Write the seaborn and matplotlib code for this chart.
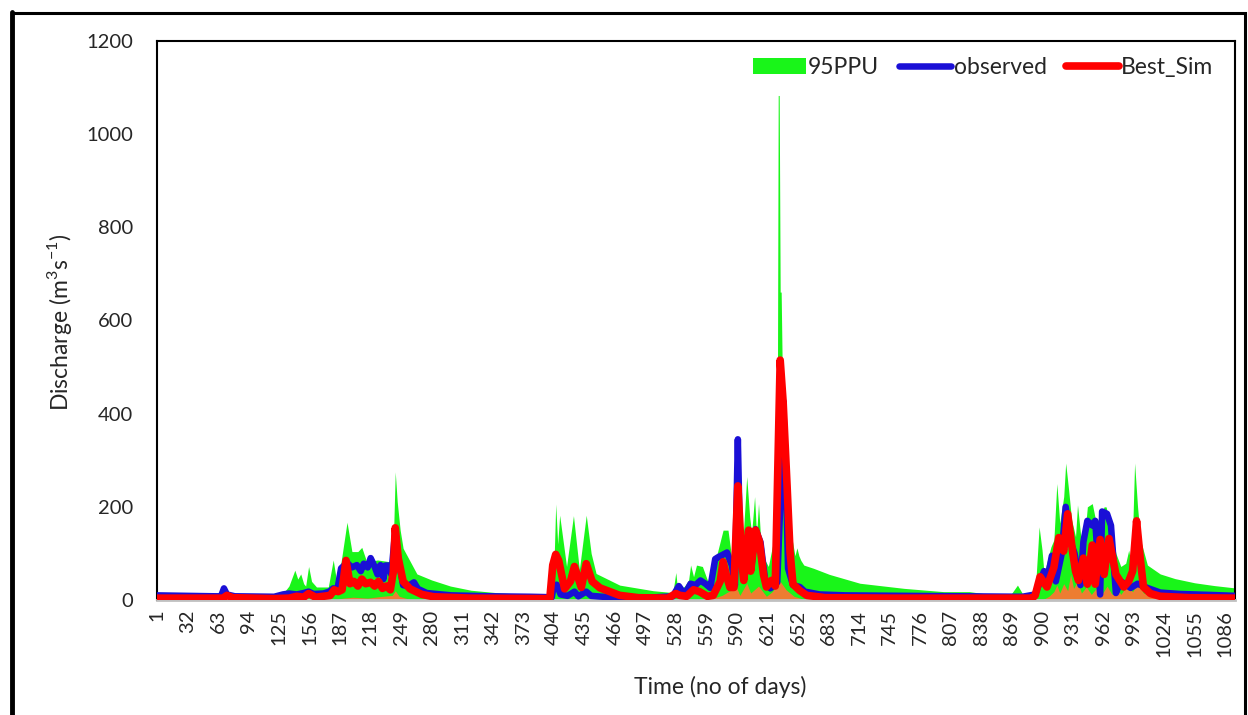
import numpy as np
import matplotlib
matplotlib.use('Agg')
import matplotlib.pyplot as plt
import seaborn as sns
from matplotlib.patches import Patch, Rectangle
from matplotlib.lines import Line2D

# daily discharge (day, m3/s) at breakpoints
obs_day = [1, 30, 60, 66, 69, 72, 80, 120, 129, 135, 143, 150, 155, 160, 170, 176, 180, 184, 188, 194, 199,
           204, 208, 211, 215, 218, 222, 225, 228, 231, 233, 236, 239, 243, 246, 251, 256, 262, 266, 275, 300,
           340, 380, 402, 404, 407, 411, 418, 425, 429, 437, 442, 460, 500, 525, 531, 535, 537, 543, 548, 553,
           558, 563, 568, 571, 580, 585, 588, 591, 593, 597, 602, 605, 609, 614, 619, 624, 631, 634, 637, 640,
           642, 647, 654, 659, 674, 700, 760, 820, 880, 893, 898, 902, 905, 910, 914, 920, 924, 929, 933, 939,
           942, 946, 951, 954, 959, 961, 966, 970, 975, 980, 990, 997, 1007, 1020, 1040, 1070, 1096]
obs_q = [10, 9, 8, 8, 25, 12, 8, 7, 12, 14, 12, 15, 18, 13, 14, 18, 25, 20, 68, 80, 70,
         75, 62, 78, 70, 90, 72, 55, 75, 45, 74, 74, 55, 150, 90, 32, 30, 38, 24, 15, 10,
         8, 7, 6, 30, 33, 12, 9, 18, 8, 18, 9, 6, 5, 8, 30, 18, 12, 35, 32, 42,
         35, 26, 88, 92, 102, 74, 32, 345, 140, 45, 138, 75, 152, 124, 38, 25, 38, 200, 428, 245,
         68, 32, 28, 18, 12, 10, 9, 8, 7, 12, 40, 62, 40, 95, 40, 100, 200, 125, 100, 32,
         125, 170, 160, 170, 12, 190, 185, 160, 15, 40, 26, 35, 26, 16, 13, 11, 9]

sim_day = [1, 60, 68, 72, 78, 120, 135, 143, 150, 155, 162, 170, 177, 181, 185, 189, 193, 197, 201, 205,
           209, 213, 218, 222, 226, 230, 234, 238, 241, 243, 246, 251, 258, 270, 282, 320, 400, 403, 406,
           409, 415, 421, 425, 432, 437, 443, 451, 471, 490, 520, 528, 532, 539, 546, 552, 560, 566, 573,
           576, 580, 583, 587, 591, 595, 597, 602, 604, 609, 613, 617, 620, 625, 629, 634, 637, 641, 644,
           647, 654, 661, 680, 750, 890, 893, 898, 905, 912, 917, 922, 926, 931, 934, 937, 942, 946, 951,
           954, 959, 963, 968, 975, 983, 988, 992, 996, 1000, 1003, 1010, 1020, 1050, 1096]
sim_q = [4, 4, 4, 10, 5, 3, 4, 8, 6, 14, 6, 8, 10, 22, 18, 22, 85, 35, 40, 30,
         45, 35, 38, 30, 40, 25, 30, 22, 60, 155, 90, 40, 24, 12, 7, 4, 3, 75, 98,
         85, 24, 40, 72, 27, 78, 40, 26, 10, 5, 4, 14, 10, 8, 22, 18, 8, 10, 40,
         82, 48, 27, 27, 245, 84, 42, 150, 62, 150, 125, 55, 28, 42, 30, 515, 425, 245, 104,
         34, 20, 10, 5, 4, 4, 10, 50, 28, 70, 134, 105, 185, 104, 62, 42, 90, 34, 118,
         34, 130, 55, 132, 55, 28, 40, 62, 170, 84, 28, 14, 8, 5, 4]

ppu_up_day = [1, 60, 69, 75, 125, 129, 135, 141, 144, 147, 150, 152, 155, 158, 163, 175, 180, 184, 188, 194,
              199, 205, 209, 214, 225, 238, 241, 243, 245, 248, 251, 265, 280, 299, 320, 350, 380, 402,
              404, 406, 408, 410, 417, 424, 430, 437, 442, 447, 471, 505, 525, 528, 530, 537, 541, 543, 546,
              549, 555, 560, 566, 570, 576, 581, 585, 588, 591, 596, 600, 603, 605, 608, 610, 612, 615, 622,
              627, 629, 631, 632, 633, 634, 635, 637, 641, 644, 649, 651, 653, 655, 658, 668, 684, 715, 760,
              800, 826, 840, 868, 875, 880, 893, 897, 900, 902, 909, 912, 915, 918, 922, 924, 927, 930, 934,
              936, 939, 942, 946, 951, 955, 959, 963, 965, 970, 975, 980, 985, 988, 991, 994, 997, 1000,
              1007, 1020, 1035, 1055, 1075, 1096]
ppu_up_q = [9, 8, 20, 8, 8, 14, 30, 64, 45, 56, 35, 30, 72, 40, 28, 28, 86, 32, 82, 167,
            104, 104, 113, 82, 86, 82, 120, 275, 211, 150, 111, 56, 43, 30, 21, 15, 12, 11,
            60, 206, 120, 182, 72, 181, 65, 182, 100, 57, 32, 20, 16, 59, 18, 30, 43, 75, 50,
            75, 72, 43, 36, 100, 150, 150, 86, 93, 210, 120, 265, 179, 143, 222, 140, 207, 100, 72,
            125, 50, 300, 1083, 1083, 661, 661, 360, 255, 157, 95, 112, 95, 85, 75, 68, 55, 36, 25,
            18, 18, 14, 11, 32, 14, 15, 157, 107, 57, 114, 129, 250, 165, 222, 294, 236, 172, 136,
            204, 143, 107, 200, 207, 165, 179, 200, 200, 157, 100, 72, 79, 107, 72, 294, 200, 129,
            75, 56, 46, 37, 31, 26]

ppu_low_day = [1, 180, 190, 200, 215, 230, 240, 243, 247, 260, 560, 575, 583, 589, 593, 600, 604, 612, 620,
               626, 634, 640, 648, 660, 900, 907, 912, 915, 918, 922, 926, 929, 932, 936, 940, 945, 950,
               955, 960, 966, 971, 976, 980, 986, 992, 997, 1003, 1012, 1025, 1096]
ppu_low_q = [0, 0, 4, 6, 4, 8, 10, 20, 8, 0, 0, 10, 20, 30, 10, 36, 15, 30, 8,
             18, 40, 22, 8, 0, 0, 8, 18, 32, 15, 35, 20, 55, 25, 40, 15, 28, 12,
             25, 10, 30, 12, 25, 12, 30, 18, 36, 15, 8, 3, 0]

x_ticks = list(range(1, 1097, 31))
y_ticks = [0, 200, 400, 600, 800, 1000, 1200]

sns.set_style('white')
plt.rcParams['font.family'] = ['Lato', 'DejaVu Sans']
plt.rcParams['mathtext.fontset'] = 'custom'
plt.rcParams['mathtext.rm'] = 'Lato'

fig = plt.figure(figsize=(12.48, 7.15), dpi=100)
ax = fig.add_axes([0.1258, 0.1608, 0.8638, 0.7819])

green = '#19f519'
orange = '#ed7d31'
blue = '#1a0fd6'
red = '#ff0000'

ax.fill_between(ppu_up_day, ppu_up_q, color=green, lw=0, zorder=1)
ax.fill_between(ppu_low_day, ppu_low_q, color=orange, lw=0, zorder=2)
sns.lineplot(x=obs_day, y=obs_q, color=blue, lw=4.7, ax=ax, zorder=3,
             solid_joinstyle='round', solid_capstyle='round')
sns.lineplot(x=sim_day, y=sim_q, color=red, lw=5.5, ax=ax, zorder=4,
             solid_joinstyle='round', solid_capstyle='round')

ax.set_xlim(1, 1096)
ax.set_ylim(0, 1200)
ax.set_xticks(x_ticks)
ax.set_xticklabels([str(t) for t in x_ticks], rotation=90, fontsize=14.5)
ax.set_yticks(y_ticks)
ax.set_yticklabels([str(t) for t in y_ticks], fontsize=14.5)
ax.tick_params(axis='both', length=0)
ax.tick_params(axis='y', pad=17)
ax.tick_params(axis='x', pad=7)

for s in ['left', 'top', 'right']:
    ax.spines[s].set_color('black')
    ax.spines[s].set_linewidth(1.5)
ax.spines['bottom'].set_color('#c0c0c0')
ax.spines['bottom'].set_linewidth(2)

ax.set_ylabel(r'Discharge (m$^{\mathregular{3}}$s$^{\mathregular{-1}}$)', fontsize=16.5)
ax.set_xlabel('Time (no of days)', fontsize=16.5)
ax.yaxis.set_label_coords(-0.077, 0.497)
ax.xaxis.set_label_coords(0.522, -0.136)

handles = [Patch(facecolor=green, edgecolor='none'),
           Line2D([0], [0], color=blue, lw=4.7, solid_capstyle='round'),
           Line2D([0], [0], color=red, lw=5.5, solid_capstyle='round')]
ax.legend(handles, ['95PPU', 'observed', 'Best_Sim'], loc='upper right', bbox_to_anchor=(0.98, 0.972),
          ncol=3, frameon=False, fontsize=16.5, handlelength=2.3, handletextpad=0.1,
          columnspacing=0.85, borderaxespad=0, borderpad=0)

# outer chart border
fig.add_artist(Rectangle((0.0095, -0.05), 0.988, 0.05 + 0.982, transform=fig.transFigure,
                         fill=False, edgecolor='black', lw=2.2))
fig.add_artist(Line2D([0.0095, 0.0095], [0, 0.983], transform=fig.transFigure, color='black', lw=3.5))

fig.savefig('out.png', dpi=100)
